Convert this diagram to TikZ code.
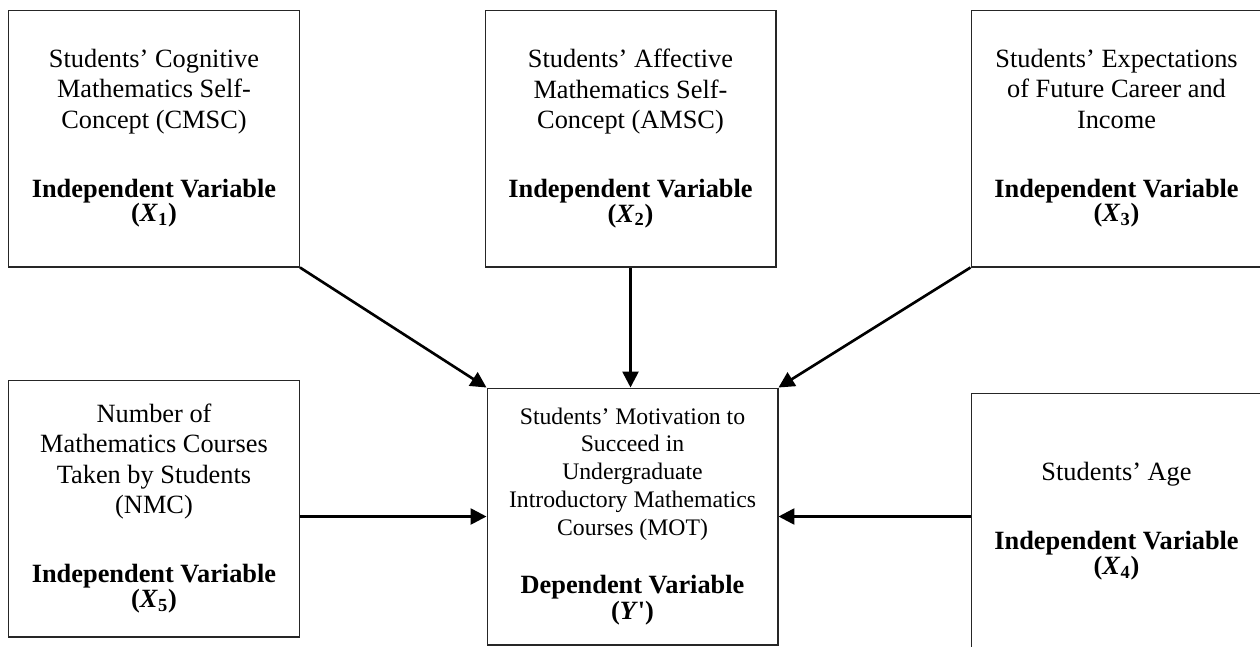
\documentclass[tikz,border=0pt]{standalone}
\usepackage{fontspec}
\setmainfont{Liberation Serif}
\usepackage{pgf, tikz}
\usetikzlibrary{arrows.meta}
\pgfdeclarelayer{edgelayer}
\pgfdeclarelayer{nodelayer}
\pgfsetlayers{edgelayer,nodelayer,main}
\tikzstyle{varbox}=[rectangle, draw=black!85, line width=0.6pt, minimum width=5.82cm, minimum height=5.14cm, inner sep=0pt, align=center, font=\fontsize{15}{17.2}\selectfont]
\tikzstyle{depbox}=[style=varbox, font=\fontsize{13.5}{15.8}\selectfont]
\tikzstyle{edge}=[draw=black, line width=1.5pt, -{Triangle[length=9pt, width=9pt]}]

\begin{document}
\begin{tikzpicture}[x=0.02cm, y=-0.02cm]
	\useasboundingbox (0, 0) rectangle (1260, 646);
	\begin{pgfonlayer}{nodelayer}
		\begin{scope}
			\clip (0, 0) rectangle (1260, 646);
			\node [style=varbox] (x1) at (154, 138.5) {Students’ Cognitive\\Mathematics Self-\\Concept (CMSC)\\[22pt]\textbf{Independent Variable}\\[-3pt]\textbf{(\textit{X}\textsubscript{1})}};
			\node [style=varbox] (x2) at (630.5, 138.5) {Students’ Affective\\Mathematics Self-\\Concept (AMSC)\\[22pt]\textbf{Independent Variable}\\[-3pt]\textbf{(\textit{X}\textsubscript{2})}};
			\node [style=varbox] (x3) at (1116.5, 138.5) {Students’ Expectations\\of Future Career and\\Income\\[22pt]\textbf{Independent Variable}\\[-3pt]\textbf{(\textit{X}\textsubscript{3})}};
			\node [style=varbox] (x5) at (154, 508.5) {Number of\\Mathematics Courses\\Taken by Students\\(NMC)\\[22pt]\textbf{Independent Variable}\\[-3pt]\textbf{(\textit{X}\textsubscript{5})}};
			\node [style=depbox] (y) at (632.5, 516.5) {Students’ Motivation to\\Succeed in\\Undergraduate\\Introductory Mathematics\\Courses (MOT)\\[17.5pt]\textbf{\fontsize{15}{17.2}\selectfont Dependent Variable}\\[-1pt]\textbf{\fontsize{15}{17.2}\selectfont (\textit{Y}\textquotesingle)}};
			\node [style=varbox] (x4) at (1116.5, 521.5) {Students’ Age\\[22pt]\textbf{Independent Variable}\\[-3pt]\textbf{(\textit{X}\textsubscript{4})}};
		\end{scope}
	\end{pgfonlayer}
	\begin{pgfonlayer}{edgelayer}
		\draw [style=edge] (x1.south east) to (y.north west);
		\draw [style=edge] (x2.south) to (x2.south |- y.north);
		\draw [style=edge] (x3.south west) to (y.north east);
		\draw [style=edge] (x5.east |- y.west) to (y.west);
		\draw [style=edge] (x4.west |- y.east) to (y.east);
	\end{pgfonlayer}
\end{tikzpicture}
\end{document}
